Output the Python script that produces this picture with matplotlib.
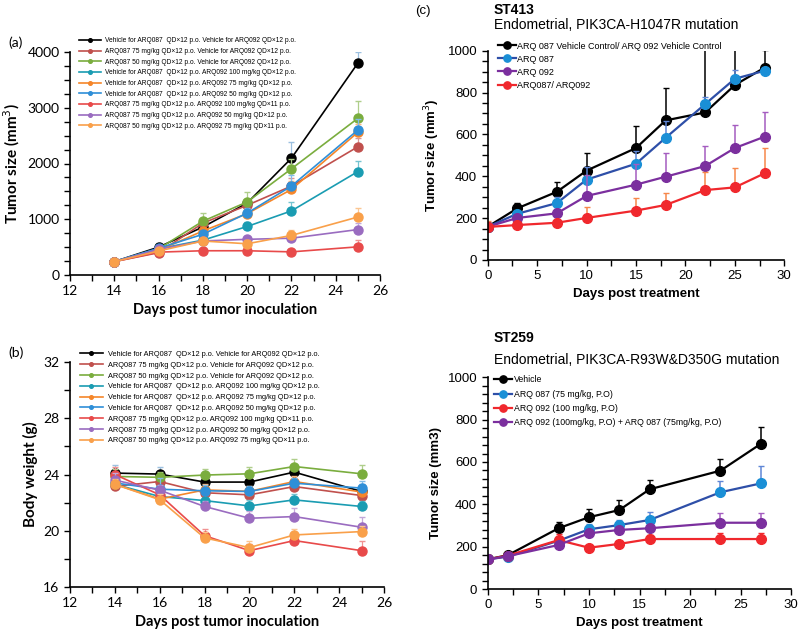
import matplotlib
matplotlib.use("Agg")
import matplotlib.pyplot as plt
import matplotlib.colors as mcolors
from matplotlib.ticker import MultipleLocator
import numpy as np

# ---------------- data ----------------
days_a = [14, 16, 18, 20, 22, 25]

a_labels = [
    "Vehicle for ARQ087  QD\u00d712 p.o. Vehicle for ARQ092 QD\u00d712 p.o.",
    "ARQ087 75 mg/kg QD\u00d712 p.o. Vehicle for ARQ092 QD\u00d712 p.o.",
    "ARQ087 50 mg/kg QD\u00d712 p.o. Vehicle for ARQ092 QD\u00d712 p.o.",
    "Vehicle for ARQ087  QD\u00d712 p.o. ARQ092 100 mg/kg QD\u00d712 p.o.",
    "Vehicle for ARQ087  QD\u00d712 p.o. ARQ092 75 mg/kg QD\u00d712 p.o.",
    "Vehicle for ARQ087  QD\u00d712 p.o. ARQ092 50 mg/kg QD\u00d712 p.o.",
    "ARQ087 75 mg/kg QD\u00d712 p.o. ARQ092 100 mg/kg QD\u00d711 p.o.",
    "ARQ087 75 mg/kg QD\u00d712 p.o. ARQ092 50 mg/kg QD\u00d712 p.o.",
    "ARQ087 50 mg/kg QD\u00d712 p.o. ARQ092 75 mg/kg QD\u00d711 p.o.",
]
a_colors = ["#000000", "#c0504d", "#7aad3e", "#1a9cb2", "#f5862a",
            "#2f8fd8", "#e84a4a", "#9a6cc0", "#f9a04a"]

# tumor size (mm3)
tum_veh_veh = [240, 500, 860, 1290, 2095, 3800]
tum_87_75 = [240, 400, 930, 1250, 1595, 2300]
tum_87_50 = [240, 470, 965, 1310, 1905, 2810]
tum_92_100 = [240, 470, 625, 870, 1150, 1855]
tum_92_75 = [240, 440, 790, 1100, 1535, 2560]
tum_92_50 = [240, 480, 730, 1110, 1595, 2600]
tum_87_75_92_100 = [240, 410, 435, 435, 415, 505]
tum_87_75_92_50 = [240, 460, 610, 640, 660, 815]
tum_87_50_92_75 = [240, 430, 610, 560, 710, 1040]

tum_err_veh_veh = [10, 80, 60, 60, 285, 200]
tum_err_87_75 = [10, 40, 60, 60, 150, 150]
tum_err_87_50 = [10, 50, 150, 180, 180, 315]
tum_err_92_100 = [10, 40, 60, 80, 160, 185]
tum_err_92_75 = [10, 40, 60, 80, 150, 150]
tum_err_92_50 = [10, 60, 60, 100, 200, 200]
tum_err_87_75_92_100 = [10, 30, 40, 40, 50, 120]
tum_err_87_75_92_50 = [10, 40, 50, 50, 60, 120]
tum_err_87_50_92_75 = [10, 40, 50, 60, 90, 155]

# body weight (g)
bw_veh_veh = [24.1, 24.03, 23.46, 23.46, 24.17, 22.79]
bw_87_75 = [23.15, 23.5, 22.7, 22.55, 23.14, 22.5]
bw_87_50 = [23.86, 23.8, 23.96, 24.05, 24.57, 24.05]
bw_92_100 = [23.3, 22.43, 22.14, 21.76, 22.19, 21.72]
bw_92_75 = [23.3, 22.25, 22.9, 22.8, 23.5, 22.75]
bw_92_50 = [23.4, 22.95, 22.84, 22.79, 23.38, 23.03]
bw_87_75_92_100 = [24.0, 22.55, 19.64, 18.57, 19.29, 18.57]
bw_87_75_92_50 = [23.6, 22.88, 21.72, 20.88, 21.0, 20.24]
bw_87_50_92_75 = [23.3, 22.2, 19.48, 18.79, 19.69, 19.93]

bw_err_veh_veh = [0.6, 0.5, 0.4, 0.4, 0.5, 0.5]
bw_err_87_75 = [0.4, 0.4, 0.4, 0.4, 0.4, 0.5]
bw_err_87_50 = [0.5, 0.4, 0.4, 0.5, 0.5, 0.6]
bw_err_92_100 = [0.4, 0.4, 0.4, 0.4, 0.4, 0.4]
bw_err_92_75 = [0.4, 0.4, 0.4, 0.4, 0.4, 0.4]
bw_err_92_50 = [0.8, 0.8, 0.4, 0.4, 0.4, 0.5]
bw_err_87_75_92_100 = [0.5, 0.4, 0.5, 0.5, 0.4, 0.7]
bw_err_87_75_92_50 = [0.5, 0.4, 0.4, 0.5, 0.6, 0.7]
bw_err_87_50_92_75 = [0.4, 0.4, 0.4, 0.5, 0.4, 0.4]

# ST413
days_st413 = [0, 3, 7, 10, 15, 18, 22, 25, 28]
st413_labels = ["ARQ 087 Vehicle Control/ ARQ 092 Vehicle Control",
                "ARQ 087", "ARQ 092", "ARQ087/ ARQ092"]
st413_vehicle = [159, 247, 326, 427, 535, 667, 705, 836, 919]
st413_087 = [159, 221, 272, 384, 460, 584, 745, 866, 904]
st413_092 = [159, 201, 223, 306, 360, 398, 449, 535, 589]
st413_combo = [158, 167, 178, 201, 236, 263, 334, 347, 414]
st413_err_vehicle = [0, 24, 48, 83, 105, 153, 320, 200, 85]
st413_err_087 = [0, 15, 30, 60, 60, 80, 35, 40, 0]
st413_err_092 = [0, 10, 20, 100, 100, 115, 96, 110, 120]
st413_err_combo = [30, 0, 0, 54, 62, 56, 88, 91, 119]

# ST259
days_st259 = [0, 2, 7, 10, 13, 16, 23, 27]
st259_labels = ["Vehicle", "ARQ 087 (75 mg/kg, P.O)", "ARQ 092 (100 mg/kg, P.O)",
                "ARQ 092 (100mg/kg, P.O) + ARQ 087 (75mg/kg, P.O)"]
st259_vehicle = [140, 160, 287, 339, 373, 471, 559, 686]
st259_087 = [140, 153, 228, 282, 302, 326, 457, 499]
st259_092 = [140, 158, 231, 195, 213, 236, 236, 236]
st259_combo = [140, 155, 208, 263, 279, 287, 313, 313]
st259_err_vehicle = [0, 15, 31, 39, 47, 44, 55, 78]
st259_err_087 = [0, 5, 15, 25, 24, 39, 53, 83]
st259_err_092 = [0, 5, 30, 10, 10, 20, 27, 27]
st259_err_combo = [0, 5, 10, 20, 15, 15, 47, 47]


def tint(c, f):
    r, g, b = mcolors.to_rgb(c)
    return (r + (1 - r) * f, g + (1 - g) * f, b + (1 - b) * f)


fig = plt.figure(figsize=(8, 6.36), dpi=100)
px_w, px_h = 800, 636


def add_ax(l, r, t, b):
    return fig.add_axes([l / px_w, 1 - b / px_h, (r - l) / px_w, (b - t) / px_h])


def style_ax(ax, font, size):
    for s in ["top", "right"]:
        ax.spines[s].set_visible(False)
    for s in ["left", "bottom"]:
        ax.spines[s].set_linewidth(1.2)
    ax.tick_params(which="both", direction="out", width=1.0, labelsize=size)
    ax.tick_params(which="major", length=4)
    ax.tick_params(which="minor", length=4)
    for lab in ax.get_xticklabels() + ax.get_yticklabels():
        lab.set_family(font)


# ---------------- panel (a) ----------------
ax_a = add_ax(70, 380, 52, 275)
tum_series = [tum_veh_veh, tum_87_75, tum_87_50, tum_92_100, tum_92_75,
              tum_92_50, tum_87_75_92_100, tum_87_75_92_50, tum_87_50_92_75]
tum_errs = [tum_err_veh_veh, tum_err_87_75, tum_err_87_50, tum_err_92_100,
            tum_err_92_75, tum_err_92_50, tum_err_87_75_92_100,
            tum_err_87_75_92_50, tum_err_87_50_92_75]
for vals, err, c, lab in zip(tum_series, tum_errs, a_colors, a_labels):
    ec = "#9cc0e0" if c == "#000000" else tint(c, 0.4)
    ax_a.errorbar(days_a, vals, yerr=[np.zeros(len(err)), err], fmt="none",
                  ecolor=ec, elinewidth=0.9, capsize=2)
    ax_a.plot(days_a, vals, color=c, lw=1.2, marker="o", ms=6.5, label=lab)
ax_a.set_xlim(12, 26)
ax_a.set_ylim(0, 4000)
ax_a.xaxis.set_major_locator(MultipleLocator(2))
ax_a.xaxis.set_minor_locator(MultipleLocator(1))
ax_a.yaxis.set_major_locator(MultipleLocator(1000))
ax_a.yaxis.set_minor_locator(MultipleLocator(250))
style_ax(ax_a, "Lato", 10)
ax_a.set_ylabel("Tumor size (mm$^3$)", family="Lato", weight="bold", fontsize=11)
ax_a.set_xlabel("Days post tumor inoculation", family="Lato", weight="bold", fontsize=10.5)
ax_a.legend(loc="upper left", bbox_to_anchor=(76 / px_w, 1 - 34 / px_h),
            bbox_transform=fig.transFigure, frameon=False, fontsize=4.8,
            markerscale=0.4, handlelength=3.2, handletextpad=0.6,
            labelspacing=0.55, borderpad=0, prop={"family": "Liberation Sans", "size": 4.8})
fig.text(8 / px_w, 1 - 43 / px_h, "(a)", family="Lato", fontsize=10, va="center")

# ---------------- panel (b) ----------------
ax_b = add_ax(70, 384, 362.3, 586.7)
bw_series = [bw_veh_veh, bw_87_75, bw_87_50, bw_92_100, bw_92_75, bw_92_50,
             bw_87_75_92_100, bw_87_75_92_50, bw_87_50_92_75]
bw_errs = [bw_err_veh_veh, bw_err_87_75, bw_err_87_50, bw_err_92_100,
           bw_err_92_75, bw_err_92_50, bw_err_87_75_92_100,
           bw_err_87_75_92_50, bw_err_87_50_92_75]
for vals, err, c, lab in zip(bw_series, bw_errs, a_colors, a_labels):
    ec = "#9cc0e0" if c == "#000000" else tint(c, 0.4)
    ax_b.errorbar(days_a, vals, yerr=[np.zeros(len(err)), err], fmt="none",
                  ecolor=ec, elinewidth=0.9, capsize=2)
    ax_b.plot(days_a, vals, color=c, lw=1.2, marker="o", ms=6.5, label=lab)
ax_b.set_xlim(12, 26)
ax_b.set_ylim(16, 32)
ax_b.xaxis.set_major_locator(MultipleLocator(2))
ax_b.xaxis.set_minor_locator(MultipleLocator(1))
ax_b.yaxis.set_major_locator(MultipleLocator(4))
ax_b.yaxis.set_minor_locator(MultipleLocator(2))
style_ax(ax_b, "Lato", 10)
ax_b.set_ylabel("Body weight (g)", family="Lato", weight="bold", fontsize=11)
ax_b.set_xlabel("Days post tumor inoculation", family="Lato", weight="bold", fontsize=10.5)
ax_b.legend(loc="upper left", bbox_to_anchor=(76 / px_w, 1 - 347 / px_h),
            bbox_transform=fig.transFigure, frameon=False,
            markerscale=0.4, handlelength=3.2, handletextpad=0.6,
            labelspacing=0.5, borderpad=0, prop={"family": "Liberation Sans", "size": 5.3})
fig.text(8 / px_w, 1 - 353 / px_h, "(b)", family="Lato", fontsize=10, va="center")

# ---------------- panel (c) ST413 ----------------
ax_c1 = add_ax(487.7, 784.3, 50.7, 260)
c1_series = [st413_vehicle, st413_087, st413_092, st413_combo]
c1_errs = [st413_err_vehicle, st413_err_087, st413_err_092, st413_err_combo]
c1_line = ["#000000", "#2e4fa8", "#7b2f9e", "#f0282d"]
c1_mark = ["#000000", "#1a8fd6", "#7b2f9e", "#f0282d"]
c1_ecol = ["#000000", "#5f86d6", "#a45cc0", "#f7874a"]
for vals, err, lc, mc, ec, lab in zip(c1_series, c1_errs, c1_line, c1_mark, c1_ecol, st413_labels):
    ax_c1.errorbar(days_st413, vals, yerr=[np.zeros(len(err)), err], fmt="none",
                   ecolor=ec, elinewidth=1.1, capsize=2.5)
    ax_c1.plot(days_st413, vals, color=lc, lw=1.6, marker="o", ms=7,
               markerfacecolor=mc, markeredgecolor=mc, label=lab)
ax_c1.set_xlim(0, 30)
ax_c1.set_ylim(0, 1000)
ax_c1.xaxis.set_major_locator(MultipleLocator(5))
ax_c1.xaxis.set_minor_locator(MultipleLocator(2.5))
ax_c1.yaxis.set_major_locator(MultipleLocator(200))
ax_c1.yaxis.set_minor_locator(MultipleLocator(50))
style_ax(ax_c1, "Liberation Sans", 9.5)
ax_c1.set_ylabel("Tumor size (mm$^3$)", family="Liberation Sans", weight="bold", fontsize=9.5)
ax_c1.set_xlabel("Days post treatment", family="Liberation Sans", weight="bold", fontsize=9.5)
ax_c1.legend(loc="upper left", bbox_to_anchor=(493 / px_w, 1 - 37 / px_h),
             bbox_transform=fig.transFigure, frameon=False,
             markerscale=0.75, handlelength=2.0, handletextpad=0.2,
             labelspacing=0.45, borderpad=0, prop={"family": "Liberation Sans", "size": 6.5})
fig.text(415 / px_w, 1 - 11 / px_h, "(c)", family="Liberation Sans", fontsize=9.5, va="center")
fig.text(494 / px_w, 1 - 10 / px_h, "ST413", family="Liberation Sans", weight="bold",
         fontsize=10, va="center")
fig.text(494 / px_w, 1 - 25 / px_h, "Endometrial, PIK3CA-H1047R mutation",
         family="Liberation Sans", fontsize=10, va="center")

# ---------------- panel (c) ST259 ----------------
ax_c2 = add_ax(487.7, 791.3, 377.3, 589)
c2_series = [st259_vehicle, st259_087, st259_092, st259_combo]
c2_errs = [st259_err_vehicle, st259_err_087, st259_err_092, st259_err_combo]
c2_line = ["#000000", "#2e4fa8", "#f0282d", "#7b2f9e"]
c2_mark = ["#000000", "#1a8fd6", "#f0282d", "#7b2f9e"]
c2_ecol = ["#000000", "#5f86d6", "#f0282d", "#a45cc0"]
for vals, err, lc, mc, ec, lab in zip(c2_series, c2_errs, c2_line, c2_mark, c2_ecol, st259_labels):
    ax_c2.errorbar(days_st259, vals, yerr=[np.zeros(len(err)), err], fmt="none",
                   ecolor=ec, elinewidth=1.1, capsize=2.5)
    ax_c2.plot(days_st259, vals, color=lc, lw=1.6, marker="o", ms=7,
               markerfacecolor=mc, markeredgecolor=mc, label=lab)
ax_c2.set_xlim(0, 30)
ax_c2.set_ylim(0, 1000)
ax_c2.xaxis.set_major_locator(MultipleLocator(5))
ax_c2.xaxis.set_minor_locator(MultipleLocator(2.5))
ax_c2.yaxis.set_major_locator(MultipleLocator(200))
ax_c2.yaxis.set_minor_locator(MultipleLocator(40))
style_ax(ax_c2, "Liberation Sans", 9.5)
ax_c2.set_ylabel("Tumor size (mm3)", family="Liberation Sans", weight="bold", fontsize=9.5)
ax_c2.set_xlabel("Days post treatment", family="Liberation Sans", weight="bold", fontsize=9.5)
ax_c2.legend(loc="upper left", bbox_to_anchor=(490 / px_w, 1 - 371 / px_h),
             bbox_transform=fig.transFigure, frameon=False,
             markerscale=0.75, handlelength=2.0, handletextpad=0.2,
             labelspacing=0.6, borderpad=0, prop={"family": "Liberation Sans", "size": 6.3})
fig.text(494 / px_w, 1 - 338 / px_h, "ST259", family="Liberation Sans", weight="bold",
         fontsize=10, va="center")
fig.text(494 / px_w, 1 - 360 / px_h, "Endometrial, PIK3CA-R93W&D350G mutation",
         family="Liberation Sans", fontsize=10, va="center")

fig.savefig("out.png", dpi=100)
